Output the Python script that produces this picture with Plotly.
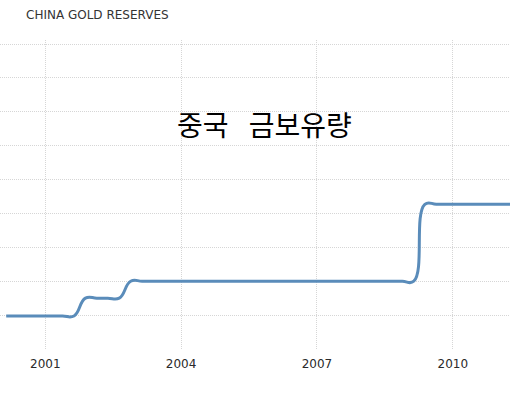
import plotly.graph_objects as go

dates = [
    "2000-02-20", "2000-05-20", "2000-08-20", "2000-11-20",
    "2001-02-20", "2001-05-20", "2001-08-20", "2001-11-20",
    "2002-02-20", "2002-05-20", "2002-08-20", "2002-11-20",
    "2003-02-20", "2003-05-20", "2003-08-20", "2003-11-20",
    "2004-02-20", "2004-05-20", "2004-08-20", "2004-11-20",
    "2005-02-20", "2005-05-20", "2005-08-20", "2005-11-20",
    "2006-02-20", "2006-05-20", "2006-08-20", "2006-11-20",
    "2007-02-20", "2007-05-20", "2007-08-20", "2007-11-20",
    "2008-02-20", "2008-05-20", "2008-08-20", "2008-11-20",
    "2009-02-20", "2009-05-20", "2009-08-20", "2009-11-20",
    "2010-02-20", "2010-05-20", "2010-08-20", "2010-11-20",
    "2011-02-20", "2011-05-20",
]
gold_tonnes = [
    395, 395, 395, 395,
    395, 395, 395, 500,
    500, 500, 500, 600,
    600, 600, 600, 600,
    600, 600, 600, 600,
    600, 600, 600, 600,
    600, 600, 600, 600,
    600, 600, 600, 600,
    600, 600, 600, 600,
    600, 1054, 1054, 1054,
    1054, 1054, 1054, 1054,
    1054, 1054,
]
tick_dates = ["2001-01-01", "2004-01-01", "2007-01-01", "2010-01-01"]
tick_labels = ["2001", "2004", "2007", "2010"]
grid_values = [200, 400, 600, 800, 1000, 1200, 1400, 1600, 1800, 2000]

title_text = "CHINA GOLD RESERVES"
overlay_text = "중국\u2002 금보유량"

fig = go.Figure()
fig.add_trace(go.Scatter(
    x=dates, y=gold_tonnes, mode="lines",
    line=dict(color="#5a8cba", width=3, shape="spline", smoothing=1.3),
    hoverinfo="skip", showlegend=False,
))

grid_color = "#d6d6d6"
fig.update_layout(
    width=510, height=393,
    margin=dict(l=0, r=0, t=40, b=43),
    paper_bgcolor="white", plot_bgcolor="white",
    showlegend=False,
    xaxis=dict(
        type="date",
        range=["2000-01-01", "2011-04-07"],
        tickvals=tick_dates, ticktext=tick_labels,
        showgrid=True, gridcolor=grid_color, griddash="1px,1px", gridwidth=1,
        zeroline=False, showline=False, ticks="",
        tickfont=dict(family="DejaVu Sans", size=12, color="#2a2a2a"),
        ticklabelstandoff=5,
    ),
    yaxis=dict(
        range=[194.1, 2023.6],
        tickvals=grid_values,
        showticklabels=False,
        showgrid=True, gridcolor=grid_color, griddash="1px,1px", gridwidth=1,
        zeroline=False, showline=False, ticks="",
    ),
    annotations=[
        dict(text=title_text, xref="paper", yref="paper", x=24/510, y=(350-15)/310,
             xanchor="left", yanchor="middle", showarrow=False,
             font=dict(family="DejaVu Sans", size=12, color="#333333")),
        dict(text=overlay_text, xref="paper", yref="paper", x=264/510, y=(350-123.5)/310,
             xanchor="center", yanchor="middle", showarrow=False,
             font=dict(family="Noto Sans CJK KR", size=28, color="#000000")),
    ],
)

fig.write_html(
    "out.html",
    config={"displayModeBar": False, "staticPlot": True},
    post_script="document.body.style.margin='0px';document.body.style.overflow='hidden';",
)
